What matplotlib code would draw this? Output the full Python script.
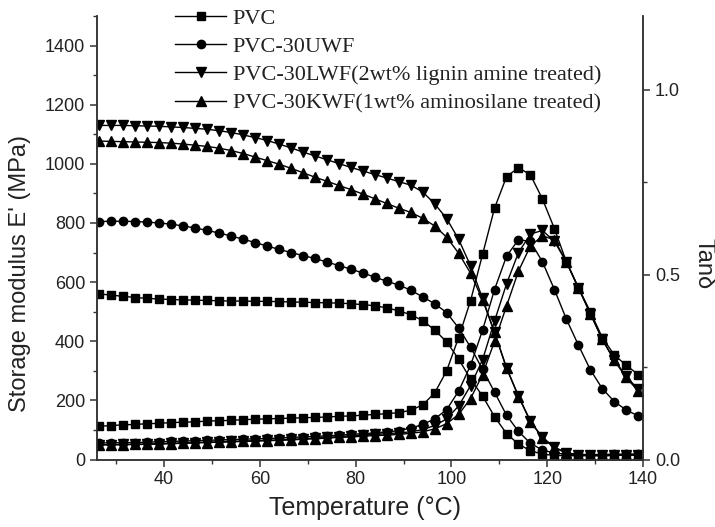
import matplotlib
matplotlib.use('Agg')
import matplotlib.pyplot as plt
from matplotlib.ticker import MultipleLocator

# temperature of each measured point, degC
temps = [26.5, 29, 31.5, 34, 36.5, 39, 41.5, 44, 46.5, 49, 51.5, 54, 56.5, 59, 61.5, 64,
         66.5, 69, 71.5, 74, 76.5, 79, 81.5, 84, 86.5, 89, 91.5, 94, 96.5, 99, 101.5, 104,
         106.5, 109, 111.5, 114, 116.5, 119, 121.5, 124, 126.5, 129, 131.5, 134, 136.5, 139]

# storage modulus E', MPa
pvc_e = [560, 556, 552, 548, 545, 543, 541, 540, 539, 538, 537, 536, 536, 535, 535, 534,
         533, 532, 531, 530, 529, 527, 524, 520, 513, 503, 490, 470, 438, 398, 340, 272,
         215, 145, 88, 52, 30, 18, 14, 13, 13, 13, 13, 14, 15, 16]
uwf_e = [805, 806, 806, 805, 803, 800, 796, 790, 783, 775, 766, 756, 745, 734, 722, 711,
         700, 690, 680, 668, 656, 644, 631, 617, 603, 590, 573, 550, 527, 497, 445, 380,
         305, 228, 150, 95, 55, 32, 22, 18, 17, 17, 17, 18, 18, 19]
lwf_e = [1130, 1130, 1130, 1129, 1128, 1127, 1125, 1123, 1120, 1117, 1112, 1106, 1098, 1089, 1079, 1067,
         1054, 1040, 1027, 1014, 1001, 988, 976, 964, 952, 940, 928, 905, 865, 815, 745, 655,
         545, 430, 310, 215, 130, 75, 42, 23, 16, 14, 14, 14, 15, 16]
kwf_e = [1077, 1076, 1075, 1074, 1073, 1072, 1070, 1067, 1063, 1059, 1053, 1045, 1035, 1023, 1011, 999,
         985, 970, 955, 941, 927, 913, 898, 882, 866, 850, 836, 816, 790, 752, 698, 630,
         540, 430, 310, 213, 128, 73, 40, 22, 16, 14, 14, 14, 15, 16]

# loss factor tan delta
pvc_tan = [0.090, 0.092, 0.094, 0.095, 0.097, 0.098, 0.100, 0.101, 0.102, 0.104, 0.105, 0.106, 0.108, 0.109, 0.110, 0.111,
           0.112, 0.113, 0.114, 0.115, 0.117, 0.118, 0.120, 0.122, 0.124, 0.127, 0.133, 0.148, 0.180, 0.240, 0.330, 0.430,
           0.555, 0.680, 0.765, 0.790, 0.770, 0.705, 0.625, 0.535, 0.465, 0.400, 0.330, 0.283, 0.255, 0.230]
uwf_tan = [0.045, 0.045, 0.046, 0.046, 0.047, 0.048, 0.049, 0.050, 0.051, 0.052, 0.053, 0.054, 0.055, 0.056, 0.057, 0.058,
           0.060, 0.061, 0.063, 0.064, 0.066, 0.068, 0.070, 0.072, 0.075, 0.078, 0.085, 0.095, 0.110, 0.135, 0.185, 0.255,
           0.350, 0.460, 0.550, 0.595, 0.590, 0.535, 0.460, 0.380, 0.310, 0.243, 0.192, 0.157, 0.134, 0.118]
lwf_tan = [0.040, 0.040, 0.041, 0.041, 0.042, 0.043, 0.044, 0.045, 0.046, 0.047, 0.048, 0.049, 0.050, 0.051, 0.052, 0.053,
           0.055, 0.056, 0.058, 0.060, 0.062, 0.064, 0.066, 0.068, 0.070, 0.072, 0.075, 0.081, 0.092, 0.110, 0.145, 0.200,
           0.270, 0.375, 0.475, 0.560, 0.610, 0.620, 0.590, 0.535, 0.465, 0.395, 0.325, 0.270, 0.225, 0.190]
kwf_tan = [0.040, 0.040, 0.040, 0.041, 0.041, 0.042, 0.043, 0.044, 0.045, 0.046, 0.047, 0.048, 0.049, 0.050, 0.051, 0.052,
           0.053, 0.055, 0.056, 0.058, 0.060, 0.061, 0.063, 0.065, 0.066, 0.068, 0.071, 0.075, 0.083, 0.097, 0.122, 0.165,
           0.230, 0.320, 0.415, 0.510, 0.578, 0.605, 0.595, 0.535, 0.465, 0.395, 0.325, 0.268, 0.222, 0.185]

labels = ['PVC', 'PVC-30UWF',
          'PVC-30LWF(2wt% lignin amine treated)',
          'PVC-30KWF(1wt% aminosilane treated)']
markers = ['s', 'o', 'v', '^']
msizes = [5.5, 6, 6.5, 6.5]

plt.rcParams['font.family'] = ['Liberation Sans', 'DejaVu Sans']
text_color = '#222222'

fig = plt.figure(figsize=(7.15, 5.27), dpi=100)
ax = fig.add_axes([0.1357, 0.128, 0.7636, 0.8416])
ax2 = ax.twinx()

lines = []
for e_vals, tan_vals, lab, mk, ms in zip([pvc_e, uwf_e, lwf_e, kwf_e],
                                         [pvc_tan, uwf_tan, lwf_tan, kwf_tan],
                                         labels, markers, msizes):
    ln, = ax.plot(temps, e_vals, color='black', lw=1.0, marker=mk, ms=ms, label=lab)
    ax2.plot(temps, tan_vals, color='black', lw=1.0, marker=mk, ms=ms)
    lines.append(ln)

ax.set_xlim(26, 140)
ax.set_ylim(0, 1500)
ax2.set_ylim(0, 1.2)

ax.xaxis.set_major_locator(MultipleLocator(20))
ax.xaxis.set_minor_locator(MultipleLocator(10))
ax.set_yticks(range(0, 1401, 200))
ax.yaxis.set_minor_locator(MultipleLocator(100))
ax2.set_yticks([0.0, 0.5, 1.0])
ax2.set_yticklabels(['0.0', '0.5', '1.0'])
ax2.yaxis.set_minor_locator(MultipleLocator(0.25))

for a in (ax, ax2):
    a.spines['top'].set_visible(False)
    for s in a.spines.values():
        s.set_color('#333333')
        s.set_linewidth(1.1)
    a.tick_params(which='major', direction='out', length=5, width=1.1,
                  labelsize=13, colors='#333333', labelcolor=text_color)
    a.tick_params(which='minor', direction='out', length=3, width=1.0, colors='#333333')

ax.set_xlabel('Temperature (°C)', fontsize=18, color=text_color, va='center')
ax.xaxis.set_label_coords(0.491, -0.109)
ax.set_ylabel("Storage modulus E' (MPa)", fontsize=17, color=text_color, va='center')
ax.yaxis.set_label_coords(-0.141, 0.42)
ax2.set_ylabel('Tanδ', fontsize=17, color=text_color, rotation=270, va='center')
ax2.yaxis.set_label_coords(1.110, 0.443)

leg = ax.legend(handles=lines, loc='upper left', bbox_to_anchor=(175 / 715, 1 - 8 / 527),
                bbox_transform=fig.transFigure, frameon=False, borderpad=0, borderaxespad=0,
                handlelength=2.3, handletextpad=0.3, labelspacing=0.35, numpoints=1,
                prop={'family': 'Liberation Serif', 'size': 16})
for t in leg.get_texts():
    t.set_color(text_color)

fig.savefig('out.png', dpi=100)
